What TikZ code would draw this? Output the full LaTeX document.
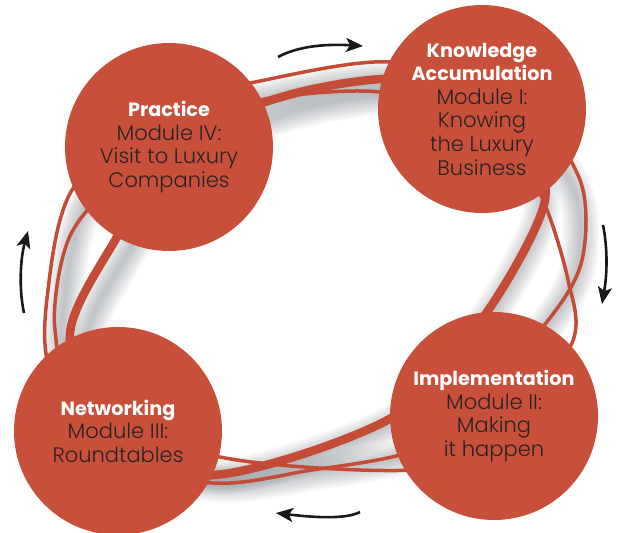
\documentclass[tikz,border=0pt]{standalone}
\usepackage{fontspec}
\setmainfont{Poppins}
\newfontfamily\bodyfont{Poppins Light}
\usetikzlibrary{arrows.meta}
\definecolor{brick}{RGB}{200,80,58}
\definecolor{ringred}{RGB}{196,76,54}
\definecolor{inkdark}{RGB}{42,34,34}
\definecolor{shade}{RGB}{105,110,118}
\tikzset{
  module/.style={circle, fill=brick, minimum size=208pt, inner sep=0pt,
    align=center, text=inkdark, font=\bodyfont\fontsize{21}{23.6}\selectfont},
  ring/.style={draw=ringred, line width=#1},
  ringshadow/.style={draw=shade, line width=#1, opacity=0.05},
  cyclearrow/.style={draw=black!90, line width=2.6pt,
    -{Stealth[length=17pt,width=14pt,inset=4pt]}},
}
\newcommand{\ttl}[1]{{\normalfont\bfseries\fontsize{19.2}{23.6}\selectfont\color{white}#1}}
% three rings running behind the four circles
\def\loopA{(70,333) (117,237) (180,140) (300,92) (420,80) (515,130) (545,200) (485,315) (393,417) (213,475) (100,430)}
\def\loopB{(48,290) (72,190) (160,105) (250,83) (390,62) (520,100) (580,180) (582,260) (546,323) (440,440) (300,472) (213,483) (110,460) (50,370)}
\def\loopC{(85,213) (170,130) (260,100) (380,92) (500,125) (543,200) (568,280) (572,343) (500,440) (413,470) (220,457) (80,400) (55,330) (62,260)}
\begin{document}
\begin{tikzpicture}[x=1pt,y=-1pt]
\useasboundingbox (0,0) rectangle (617,532);
\fill[white] (0,0) rectangle (617,532);
% soft shadows falling inward from the rings
\begin{scope}[shift={(6,9)}, scale around={0.96:(310,285)}]
  \foreach \w in {36,32,...,4} {
    \draw[ringshadow=\w pt] plot[smooth cycle] coordinates {\loopA};
    \draw[ringshadow=\w pt] plot[smooth cycle] coordinates {\loopB};
  }
\end{scope}
% rings
\draw[ring=3.5pt] plot[smooth cycle] coordinates {\loopC};
\draw[ring=3.5pt] plot[smooth cycle] coordinates {\loopB};
\draw[ring=8.5pt] plot[smooth cycle] coordinates {\loopA};
% modules
\node[module] (know) at (482,109) {\ttl{Knowledge}\\\ttl{Accumulation}\\Module I:\\Knowing\\the Luxury\\Business};
\node[module] (impl) at (494,416) {\ttl{Implementation}\\Module II:\\Making\\it happen};
\node[module] (netw) at (118,431) {\ttl{Networking}\\Module III:\\Roundtables};
\node[module] (prac) at (169,147) {\ttl{Practice}\\Module IV:\\Visit to Luxury\\Companies};
% cycle arrows
\coordinate (t1) at (278,57);  \coordinate (t2) at (363,46);
\coordinate (r1) at (603,225); \coordinate (r2) at (602,304);
\coordinate (b1) at (360,512); \coordinate (b2) at (276,513);
\coordinate (l1) at (24,313);  \coordinate (l2) at (28,231);
\draw[cyclearrow] (t1) .. controls (300,45) and (330,44) .. (t2);
\draw[cyclearrow] (r1) .. controls (608,250) and (607,275) .. (r2);
\draw[cyclearrow] (b1) .. controls (345,520) and (310,517) .. (b2);
\draw[cyclearrow] (l1) .. controls (19,290) and (20,260) .. (l2);
\end{tikzpicture}
\end{document}
